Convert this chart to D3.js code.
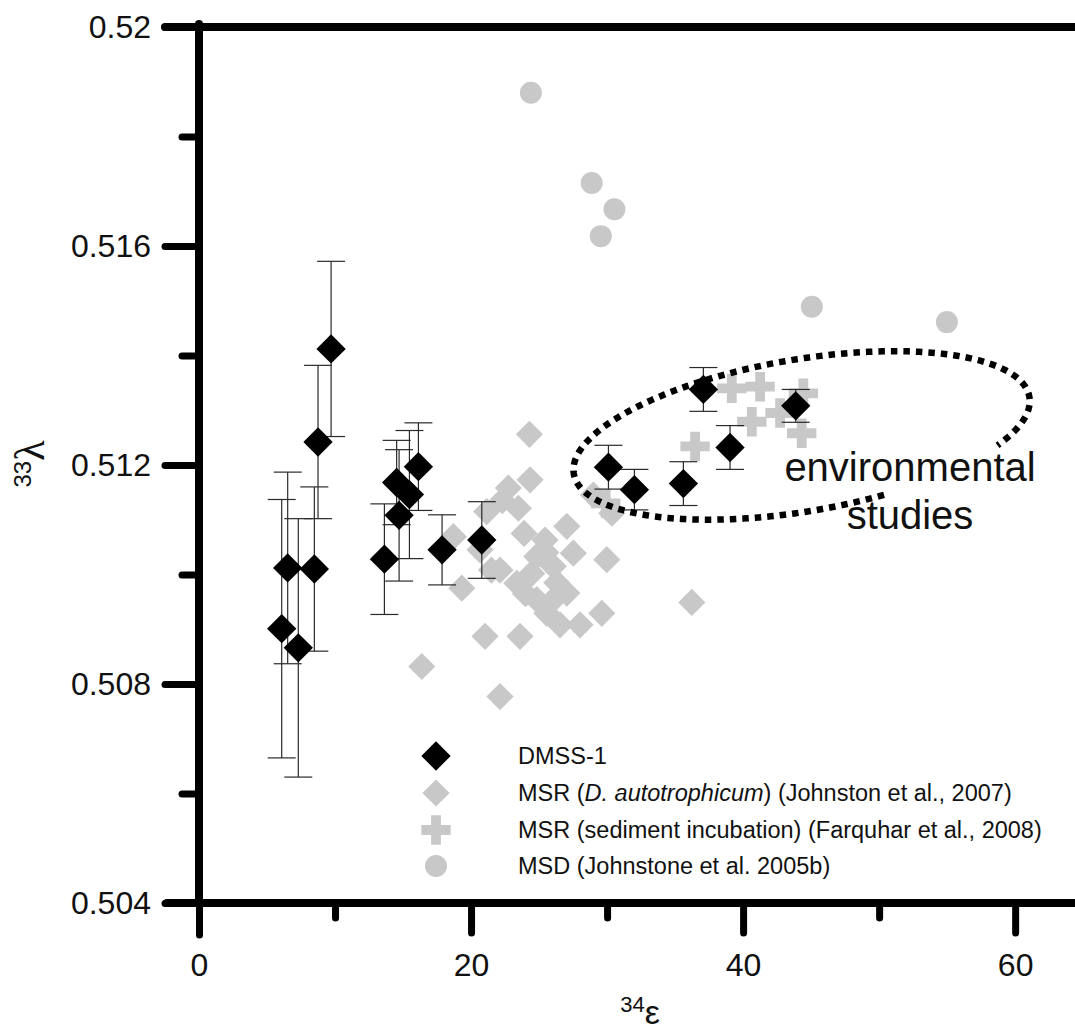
<!DOCTYPE html>
<html>
<head>
<meta charset="utf-8">
<script src="https://cdn.jsdelivr.net/npm/d3@7"></script>
<style>
  html, body { margin: 0; padding: 0; background: #fff; }
  svg { display: block; }
  text { font-family: "Liberation Sans", Arial, Helvetica, sans-serif; fill: #111; }
</style>
</head>
<body>
<svg id="chart" width="1075" height="1030"></svg>
<script>
// ---- DMSS-1 measurements: 34ε, 33λ and the error on 33λ ----
const dmssEps    = [9.71, 8.75, 6.52, 8.48, 6.08, 7.30, 16.13, 14.53, 15.47, 14.71, 13.63, 17.87, 20.79, 30.10, 32.01, 35.61, 39.04, 37.08, 43.87];
const dmssLambda = [0.51412, 0.51242, 0.51012, 0.51010, 0.50901, 0.50866, 0.51197, 0.51168, 0.51146, 0.51108, 0.51028, 0.51045, 0.51063, 0.51196, 0.51155, 0.51166, 0.51232, 0.51338, 0.51308];
const dmssErr    = [0.0016, 0.0014, 0.00175, 0.0015, 0.00236, 0.00236, 0.0008, 0.00077, 0.00117, 0.0012, 0.00101, 0.00064, 0.0007, 0.0004, 0.00037, 0.0004, 0.0004, 0.0004, 0.0003];

// ---- MSR, D. autotrophicum (Johnston et al., 2007) ----
const msrDaEps    = [24.29, 24.34, 22.74, 23.48, 22.30, 21.15, 18.70, 20.66, 27.04, 25.44, 27.52, 24.83, 22.13, 23.36, 24.46, 26.05, 27.04, 24.83, 25.57, 26.54, 28.01, 29.61, 29.98, 19.32, 21.03, 23.60, 36.23, 22.13, 16.38, 28.99, 30.35, 25.50, 26.30, 24.00, 21.50, 23.90, 25.90];
const msrDaLambda = [0.51256, 0.51173, 0.51158, 0.51121, 0.51135, 0.51115, 0.51069, 0.51045, 0.51088, 0.51063, 0.51039, 0.51033, 0.51008, 0.50984, 0.51002, 0.51015, 0.50966, 0.50954, 0.50929, 0.50908, 0.50908, 0.50929, 0.51027, 0.50975, 0.50887, 0.50887, 0.50949, 0.50777, 0.50832, 0.51145, 0.51112, 0.51040, 0.50985, 0.50965, 0.51008, 0.51075, 0.50950];

// ---- MSR, sediment incubation (Farquhar et al., 2008) ----
const msrSedEps    = [39.17, 41.25, 36.47, 40.64, 42.72, 44.43, 44.31, 29.90];
const msrSedLambda = [0.51340, 0.51343, 0.51234, 0.51279, 0.51295, 0.51331, 0.51258, 0.51130];

// ---- MSD (Johnstone et al. 2005b) ----
const msdEps    = [24.40, 28.87, 30.54, 29.54, 45.05, 54.98];
const msdLambda = [0.51880, 0.51715, 0.51667, 0.51618, 0.51489, 0.51461];

// ---- axis ticks ----
const xMajorTicks = [0, 20, 40, 60];
const xMinorTicks = [10, 30, 50];
const yMajorTicks = [0.504, 0.508, 0.512, 0.516, 0.52];
const yMinorTicks = [0.506, 0.510, 0.514, 0.518];

// ---- legend entries ----
const legendLabels = [
  ["DMSS-1"],
  ["MSR (", "D. autotrophicum", ") (Johnston et al., 2007)"],
  ["MSR (sediment incubation) (Farquhar et al., 2008)"],
  ["MSD (Johnstone et al. 2005b)"]
];

// ---- annotation ellipse (centre in data units) ----
const envCentre = [44.3, 0.51254];
const envText = ["environmental", "studies"];

const svg = d3.select("#chart");
const x = d3.scaleLinear().domain([0, 64.4]).range([199, 1075]);
const y = d3.scaleLinear().domain([0.504, 0.52]).range([903, 27]);

const GREY = "#c8c8c8";
const AXW = 8;

// ---------- markers ----------
const gMarks = svg.append("g");

// MSD circles
gMarks.selectAll("circle.msd").data(msdEps.map((e, i) => [e, msdLambda[i]]))
  .join("circle").attr("class", "msd")
  .attr("cx", d => x(d[0])).attr("cy", d => y(d[1])).attr("r", 11)
  .attr("fill", GREY);

// MSR D. autotrophicum diamonds
const diamondGrey = d3.symbol().type(d3.symbolSquare).size(370);
gMarks.selectAll("path.msrda").data(msrDaEps.map((e, i) => [e, msrDaLambda[i]]))
  .join("path").attr("class", "msrda")
  .attr("d", diamondGrey)
  .attr("transform", d => `translate(${x(d[0])},${y(d[1])}) rotate(45)`)
  .attr("fill", GREY);

// MSR sediment crosses
const crossSym = d3.symbol().type(d3.symbolCross).size(480);
gMarks.selectAll("path.msrsed").data(msrSedEps.map((e, i) => [e, msrSedLambda[i]]))
  .join("path").attr("class", "msrsed")
  .attr("d", crossSym)
  .attr("transform", d => `translate(${x(d[0])},${y(d[1])})`)
  .attr("fill", GREY);

// DMSS-1 error bars
const dmss = dmssEps.map((e, i) => ({ e, l: dmssLambda[i], s: dmssErr[i] }));
const gErr = svg.append("g").attr("stroke", "#2a2a2a").attr("stroke-width", 1.2).attr("fill", "none");
const CAP = 14;
dmss.forEach(d => {
  const cx = x(d.e), y0 = y(d.l - d.s), y1 = y(d.l + d.s);
  gErr.append("line").attr("x1", cx).attr("x2", cx).attr("y1", y0).attr("y2", y1);
  gErr.append("line").attr("x1", cx - CAP).attr("x2", cx + CAP).attr("y1", y0).attr("y2", y0);
  gErr.append("line").attr("x1", cx - CAP).attr("x2", cx + CAP).attr("y1", y1).attr("y2", y1);
});

// DMSS-1 diamonds
const diamondBlack = d3.symbol().type(d3.symbolSquare).size(430);
svg.append("g").selectAll("path").data(dmss).join("path")
  .attr("d", diamondBlack)
  .attr("transform", d => `translate(${x(d.e)},${y(d.l)}) rotate(45)`)
  .attr("fill", "#000");

// ---------- "environmental studies" ellipse ----------
const RX = 231, RY = 76, ROT = -9.6 * Math.PI / 180;
const ecx = x(envCentre[0]), ecy = y(envCentre[1]);
const gapFrom = 34, gapTo = 72; // degrees, break left for the label
const pts = [];
for (let t = gapTo; t <= gapFrom + 360; t += 1) {
  const a = t * Math.PI / 180;
  const u = RX * Math.cos(a), v = RY * Math.sin(a);
  pts.push([ecx + u * Math.cos(ROT) - v * Math.sin(ROT), ecy + u * Math.sin(ROT) + v * Math.cos(ROT)]);
}
svg.append("path")
  .attr("d", d3.line()(pts))
  .attr("fill", "none").attr("stroke", "#000")
  .attr("stroke-width", 6.5).attr("stroke-dasharray", "6.5 6");

svg.append("text").attr("x", 910).attr("y", 481).attr("text-anchor", "middle")
  .style("font-size", "40px").text(envText[0]);
svg.append("text").attr("x", 910).attr("y", 529).attr("text-anchor", "middle")
  .style("font-size", "40px").text(envText[1]);

// ---------- axes ----------
function styleAxis(g) {
  g.select(".domain").remove();
  g.selectAll(".tick line").attr("stroke", "#000").attr("stroke-width", AXW - 1).attr("stroke-linecap", "round");
  g.selectAll(".tick text").style("font-size", "32px").attr("fill", "#111")
    .style("font-family", "'Liberation Sans', Arial, sans-serif");
}

// y axis
svg.append("g").attr("transform", `translate(${x(0)},0)`)
  .call(d3.axisLeft(y).tickValues(yMinorTicks).tickSize(17).tickFormat(""))
  .call(styleAxis);
svg.append("g").attr("transform", `translate(${x(0)},0)`)
  .call(d3.axisLeft(y).tickValues(yMajorTicks).tickSize(34).tickPadding(14)
    .tickFormat(d => d3.format("")(+d.toFixed(3))))
  .call(styleAxis);

// x axis
svg.append("g").attr("transform", `translate(0,${y(0.504)})`)
  .call(d3.axisBottom(x).tickValues(xMinorTicks).tickSize(15).tickFormat(""))
  .call(styleAxis);
const xAx = svg.append("g").attr("transform", `translate(0,${y(0.504)})`)
  .call(d3.axisBottom(x).tickValues(xMajorTicks).tickSize(30).tickPadding(20).tickFormat(d3.format("d")))
  .call(styleAxis);
xAx.selectAll(".tick").filter(d => d === 0).select("line").attr("y2", 32);

// axis lines and top frame
const frame = svg.append("g").attr("stroke", "#000").attr("stroke-width", AXW).attr("stroke-linecap", "round");
frame.append("line").attr("x1", x(0)).attr("x2", x(0)).attr("y1", y(0.52) - 3).attr("y2", y(0.504));
frame.append("line").attr("x1", x(0) - 32).attr("x2", 1080).attr("y1", y(0.504)).attr("y2", y(0.504));
frame.append("line").attr("x1", x(0) - 34).attr("x2", 1080).attr("y1", y(0.52)).attr("y2", y(0.52));

// axis titles
const yt = svg.append("text").attr("transform", "translate(44,464) rotate(-90)")
  .attr("text-anchor", "middle");
yt.append("tspan").style("font-size", "24px").attr("baseline-shift", "super").text("33");
yt.append("tspan").style("font-size", "42px").style("font-family", "'Liberation Serif', 'DejaVu Serif', serif").text("λ");

const xt = svg.append("text").attr("x", 640).attr("y", 1024).attr("text-anchor", "middle");
xt.append("tspan").style("font-size", "22px").attr("baseline-shift", "super").text("34");
xt.append("tspan").style("font-size", "34px").text("ε");

// ---------- legend ----------
const legY = [756, 793, 830, 866];
const legX = 436, legTextX = 518;
const lg = svg.append("g");
lg.append("path").attr("d", diamondBlack).attr("transform", `translate(${legX},${legY[0]}) rotate(45)`).attr("fill", "#000");
lg.append("path").attr("d", diamondGrey).attr("transform", `translate(${legX},${legY[1]}) rotate(45)`).attr("fill", GREY);
lg.append("path").attr("d", crossSym).attr("transform", `translate(${legX},${legY[2]})`).attr("fill", GREY);
lg.append("circle").attr("cx", legX).attr("cy", legY[3]).attr("r", 11).attr("fill", GREY);
legendLabels.forEach((parts, i) => {
  const t = lg.append("text").attr("x", legTextX).attr("y", legY[i]).attr("dy", "0.36em").style("font-size", "23.5px");
  parts.forEach((p, j) => {
    const ts = t.append("tspan").text(p);
    if (parts.length === 3 && j === 1) ts.style("font-style", "italic");
  });
});
</script>
</body>
</html>
